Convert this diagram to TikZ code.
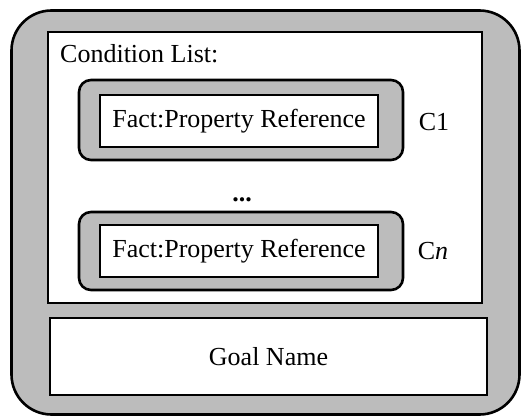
\documentclass[tikz,border=0pt]{standalone}
\usepackage{fontspec}
\setmainfont{Liberation Serif}
\definecolor{shade}{RGB}{188,188,188}
\begin{document}
\begin{tikzpicture}[x=1pt,y=-1pt,
  frame/.style={draw=black,line width=2.6pt,inner sep=0pt},
  shaded/.style={frame,fill=shade},
  plain/.style={frame,fill=white},
  label/.style={font=\fontsize{26}{31}\selectfont,inner sep=0pt}]
\useasboundingbox (0,0) rectangle (522,417);
% outer record
\node[shaded,rounded corners=40pt,minimum width=508pt,minimum height=404pt] (rec) at (265.5,212.5) {};
% condition list panel
\node[plain,minimum width=434pt,minimum height=271pt] (cond) at (265,167.5) {};
\node[label,anchor=base west] (condlbl) at (60,63) {Condition List:};
% first condition
\node[shaded,rounded corners=12pt,minimum width=324pt,minimum height=80pt] (c1box) at (241,120) {};
\node[plain,label,minimum width=278pt,minimum height=52pt] (c1) at (239,121) {Fact:Property Reference};
\node[label] (c1lbl) at (434,122) {C1};
% ellipsis
\node[label,font=\fontsize{26}{31}\selectfont\bfseries,anchor=base] (dots) at (242,201) {...};
% last condition
\node[shaded,rounded corners=12pt,minimum width=324pt,minimum height=78pt] (cnbox) at (241,251) {};
\node[plain,label,minimum width=278pt,minimum height=52pt] (cn) at (239,251) {Fact:Property Reference};
\node[label] (cnlbl) at (433,251) {C\textit{n}};
% goal panel
\node[plain,label,minimum width=437pt,minimum height=77pt] (goal) at (268.5,356.5) {Goal Name};
\end{tikzpicture}
\end{document}
